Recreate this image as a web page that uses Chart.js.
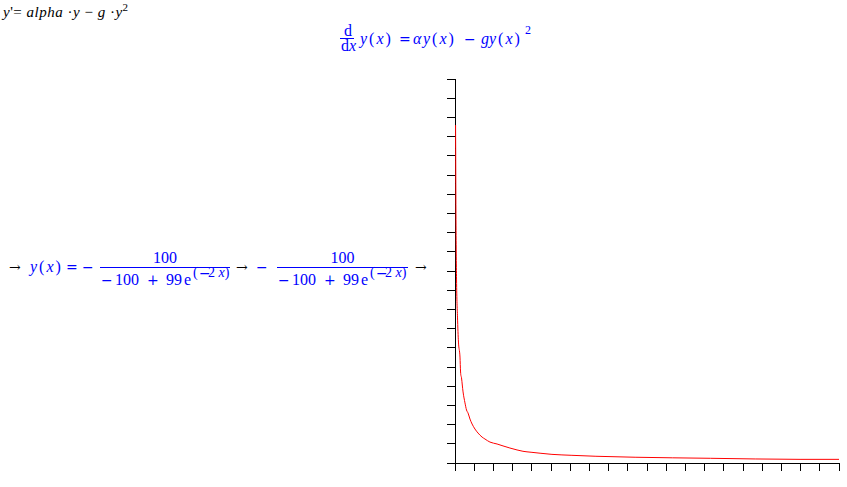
<!DOCTYPE html>
<html lang="en">

<head>
    <meta charset="UTF-8">
    <title>Logistic equation worksheet</title>
    <script src="https://cdn.jsdelivr.net/npm/chart.js"></script>
    <style>
        body {
            margin: 0;
            width: 847px;
            height: 487px;
            background: #fff;
            position: relative;
            overflow: hidden;
            font-family: "Liberation Serif", "Times New Roman", serif;
        }

        .t {
            position: absolute;
            white-space: nowrap;
        }

        .op {
            font-family: "DejaVu Serif", serif;
        }

        .frac-line {
            position: absolute;
            height: 1px;
            background: #0000ff;
        }

        #plot {
            position: absolute;
            left: 442px;
            top: 74px;
        }
    </style>
</head>

<body>
    <canvas id="plot" width="402" height="402"></canvas>

    <script>
        // curve values (axis units, 20 tick steps each way)
        const curveX = [0.03, 0.05, 0.08, 0.13, 0.18, 0.26, 0.29, 0.34, 0.42, 0.52, 0.60, 0.68, 0.78, 0.89,
            1.04, 1.20, 1.41, 1.56, 1.82, 2.19, 2.50, 2.86, 3.23, 3.54, 3.96, 4.43, 5.05, 6.09, 7.34,
            9.38, 13.3, 17.97, 20.0];
        const curveY = [17.6, 13.0, 9.58, 7.6, 6.3, 5.52, 4.74, 4.43, 3.7, 3.13, 2.76, 2.6, 2.29, 2.03,
            1.77, 1.56, 1.35, 1.25, 1.09, 0.99, 0.89, 0.78, 0.68, 0.61, 0.56, 0.51, 0.45, 0.40, 0.35,
            0.30, 0.245, 0.19, 0.19];
        const xRange = [0, 20];
        const yRange = [0, 20];

        const BLUE = '#0000ff';

        // place a bit of text so its baseline sits at y
        function put(html, x, baseline, size, color, spacing, cls) {
            const el = document.createElement('div');
            el.className = 't' + (cls ? ' ' + cls : '');
            el.innerHTML = html;
            el.style.left = x + 'px';
            el.style.top = (baseline - 0.84 * size) + 'px';
            el.style.fontSize = size + 'px';
            el.style.lineHeight = size + 'px';
            el.style.color = color || BLUE;
            if (spacing) el.style.letterSpacing = spacing + 'px';
            document.body.appendChild(el);
        }

        // operator glyphs (=, minus, +, arrows) come out wider in DejaVu Serif
        function op(ch, x, baseline, color) {
            put(ch, x, baseline, 14, color, 0, 'op');
        }

        function line(x, y, w) {
            const el = document.createElement('div');
            el.className = 'frac-line';
            el.style.left = x + 'px';
            el.style.top = y + 'px';
            el.style.width = w + 'px';
            document.body.appendChild(el);
        }

        const yx = '<i>y</i>(<i>x</i>)';

        // input line
        put('<i>y</i>\'= <i>alpha</i> &middot;<i>y</i> &minus; <i>g</i> &middot;<i>y</i><sup style="font-size:11px;vertical-align:6px;line-height:0">2</sup>',
            3, 18, 15, '#000', 0.5);

        // d/dx y(x) = alpha y(x) - g y(x)^2
        put('d', 344, 36, 16);
        line(340, 38, 14);
        put('d<i>x</i>', 341, 51, 16);
        put(yx, 360, 44, 16, BLUE, 2);
        op('=', 399, 44);
        put('<i>&alpha;</i>', 413, 44, 16);
        put(yx, 423, 44, 16, BLUE, 2);
        op('&minus;', 464, 44);
        put('<i>g</i>', 481, 44, 16);
        put(yx, 489, 44, 16, BLUE, 2);
        put('2', 525, 34, 12);

        // -100/(-100 + 99 e^(-2x))
        function fraction(x0, w) {
            put('100', x0 + (w - 24) / 2, 263, 16);
            line(x0, 267, w);
            op('&minus;', x0 + 1, 285);
            put('100', x0 + 15, 285, 16);
            op('+', x0 + 47, 285);
            put('99', x0 + 66, 285, 16);
            put('e', x0 + 84, 285, 16);
            put('(', x0 + 93, 278, 14);
            op('&minus;', x0 + 99, 278);
            put('2 <i>x</i>)', x0 + 108, 278, 14);
        }

        op('&rarr;', 9, 272, '#000');
        put(yx, 30, 272, 16, BLUE, 2);
        op('=', 66, 272);
        op('&minus;', 82, 272);
        fraction(100, 130);
        op('&rarr;', 236, 272, '#000');
        op('&minus;', 256, 272);
        fraction(277, 131);
        op('&rarr;', 415, 272, '#000');

        const points = curveX.map((x, i) => ({ x: x, y: curveY[i] }));

        const axisStyle = {
            grid: { drawOnChartArea: false, color: '#000', tickLength: 8, tickWidth: 1 },
            border: { color: '#000', width: 1 },
            ticks: { display: false, stepSize: 1 }
        };

        new Chart(document.getElementById('plot'), {
            type: 'line',
            data: {
                datasets: [{
                    data: points,
                    borderColor: '#ff0000',
                    borderWidth: 1,
                    pointRadius: 0,
                    cubicInterpolationMode: 'monotone',
                    fill: false
                }]
            },
            options: {
                responsive: false,
                animation: false,
                layout: { padding: { top: 5, right: 5, left: 5, bottom: 5 } },
                plugins: { legend: { display: false }, tooltip: { enabled: false } },
                scales: {
                    x: Object.assign({ type: 'linear', min: xRange[0], max: xRange[1] }, axisStyle),
                    y: Object.assign({ type: 'linear', min: yRange[0], max: yRange[1] }, axisStyle)
                }
            }
        });
    </script>
</body>

</html>
